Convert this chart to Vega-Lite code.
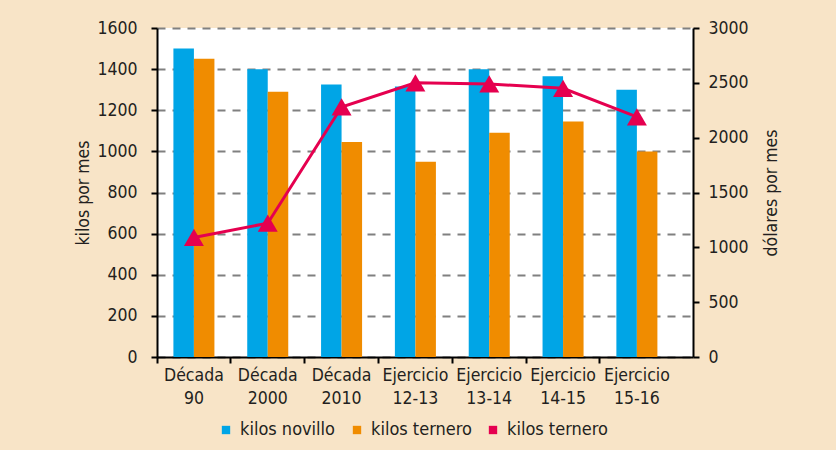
{
  "$schema": "https://vega.github.io/schema/vega-lite/v6.json",
  "width": 536,
  "height": 329,
  "autosize": "none",
  "padding": {"left": 157, "top": 28, "right": 143, "bottom": 93},
  "background": "#F8E4C7",
  "config": {
    "view": {"fill": "white", "stroke": null},
    "font": "Liberation Sans Narrow, DejaVu Sans Condensed, sans-serif",
    "axis": {
      "domainColor": "#000000",
      "domainWidth": 2,
      "tickColor": "#000000",
      "tickWidth": 2,
      "tickSize": 6,
      "labelFontSize": 17.5,
      "labelColor": "#231F20",
      "titleFontSize": 17.5,
      "titleFontWeight": "normal",
      "titleColor": "#231F20",
      "labelFont": "Liberation Sans Narrow, DejaVu Sans Condensed, sans-serif",
      "titleFont": "Liberation Sans Narrow, DejaVu Sans Condensed, sans-serif"
    }
  },
  "datasets": {
    "barras": [
      {"periodo": "Década 90", "serie": "kilos novillo", "valor": 1500},
      {"periodo": "Década 90", "serie": "kilos ternero", "valor": 1450},
      {"periodo": "Década 2000", "serie": "kilos novillo", "valor": 1400},
      {"periodo": "Década 2000", "serie": "kilos ternero", "valor": 1290},
      {"periodo": "Década 2010", "serie": "kilos novillo", "valor": 1325},
      {"periodo": "Década 2010", "serie": "kilos ternero", "valor": 1045},
      {"periodo": "Ejercicio 12-13", "serie": "kilos novillo", "valor": 1315},
      {"periodo": "Ejercicio 12-13", "serie": "kilos ternero", "valor": 950},
      {"periodo": "Ejercicio 13-14", "serie": "kilos novillo", "valor": 1400},
      {"periodo": "Ejercicio 13-14", "serie": "kilos ternero", "valor": 1090},
      {"periodo": "Ejercicio 14-15", "serie": "kilos novillo", "valor": 1365},
      {"periodo": "Ejercicio 14-15", "serie": "kilos ternero", "valor": 1145},
      {"periodo": "Ejercicio 15-16", "serie": "kilos novillo", "valor": 1300},
      {"periodo": "Ejercicio 15-16", "serie": "kilos ternero", "valor": 1000}
    ],
    "linea": [
      {"periodo": "Década 90", "dolares": 1090},
      {"periodo": "Década 2000", "dolares": 1220},
      {"periodo": "Década 2010", "dolares": 2280},
      {"periodo": "Ejercicio 12-13", "dolares": 2500},
      {"periodo": "Ejercicio 13-14", "dolares": 2490},
      {"periodo": "Ejercicio 14-15", "dolares": 2450},
      {"periodo": "Ejercicio 15-16", "dolares": 2190}
    ]
  },
  "layer": [
    {
      "data": {"name": "barras"},
      "mark": {"type": "bar"},
      "encoding": {
        "x": {
          "field": "periodo",
          "type": "nominal",
          "sort": null,
          "scale": {"paddingInner": 0, "paddingOuter": 0.13, "align": 0},
          "axis": {
            "title": null,
            "labelAngle": 0,
            "bandPosition": 0,
            "labelPadding": 3,
            "labelLineHeight": 23,
            "labelBaseline": "top",
            "labelExpr": "split(datum.label, ' ')"
          }
        },
        "xOffset": {
          "field": "serie",
          "scale": {"paddingInner": 0, "paddingOuter": 0.8}
        },
        "y": {
          "field": "valor",
          "type": "quantitative",
          "scale": {"domain": [0, 1600]},
          "axis": {
            "title": "kilos por mes",
            "format": "d",
            "values": [0, 200, 400, 600, 800, 1000, 1200, 1400, 1600],
            "grid": true,
            "gridColor": "#808080",
            "gridWidth": 2,
            "gridDash": [8, 7],
            "labelPadding": 14,
            "titleX": -74,
            "titleY": 164.5,
            "titleAngle": 270,
            "titleAlign": "center",
            "titleBaseline": "middle"
          }
        },
        "color": {
          "field": "serie",
          "type": "nominal",
          "scale": {
            "domain": ["kilos novillo", "kilos ternero", "dólares ternero"],
            "range": ["#00A5E6", "#F08C00", "#E5004F"]
          },
          "legend": {
            "title": null,
            "orient": "none",
            "legendX": 60,
            "legendY": 393,
            "direction": "horizontal",
            "symbolType": "square",
            "symbolSize": 70,
            "symbolStrokeWidth": 0,
            "labelFontSize": 18,
            "labelColor": "#231F20",
            "labelFont": "Liberation Sans Narrow, DejaVu Sans Condensed, sans-serif",
            "labelOffset": 5,
            "columnPadding": 12,
            "padding": 0,
            "labelExpr": "datum.value == 'dólares ternero' ? 'kilos ternero' : datum.label"
          }
        }
      }
    },
    {
      "data": {"name": "linea"},
      "layer": [
        {
          "mark": {"type": "line", "color": "#E5004F", "strokeWidth": 3},
          "encoding": {
            "x": {"field": "periodo", "type": "nominal", "sort": null},
            "y": {
              "field": "dolares",
              "type": "quantitative",
              "scale": {"domain": [0, 3000]},
              "axis": {
                "orient": "right",
                "title": "dólares por mes",
                "format": "d",
                "values": [0, 500, 1000, 1500, 2000, 2500, 3000],
                "grid": false,
                "labelPadding": 9,
                "titleX": 78,
                "titleY": 164.5,
                "titleAngle": 270,
                "titleAlign": "center",
                "titleBaseline": "middle"
              }
            }
          }
        },
        {
          "mark": {"type": "point", "shape": "triangle-up", "size": 400, "filled": true, "opacity": 1, "color": "#E5004F"},
          "encoding": {
            "x": {"field": "periodo", "type": "nominal", "sort": null},
            "y": {"field": "dolares", "type": "quantitative"}
          }
        }
      ]
    }
  ],
  "resolve": {"scale": {"y": "independent"}}
}
